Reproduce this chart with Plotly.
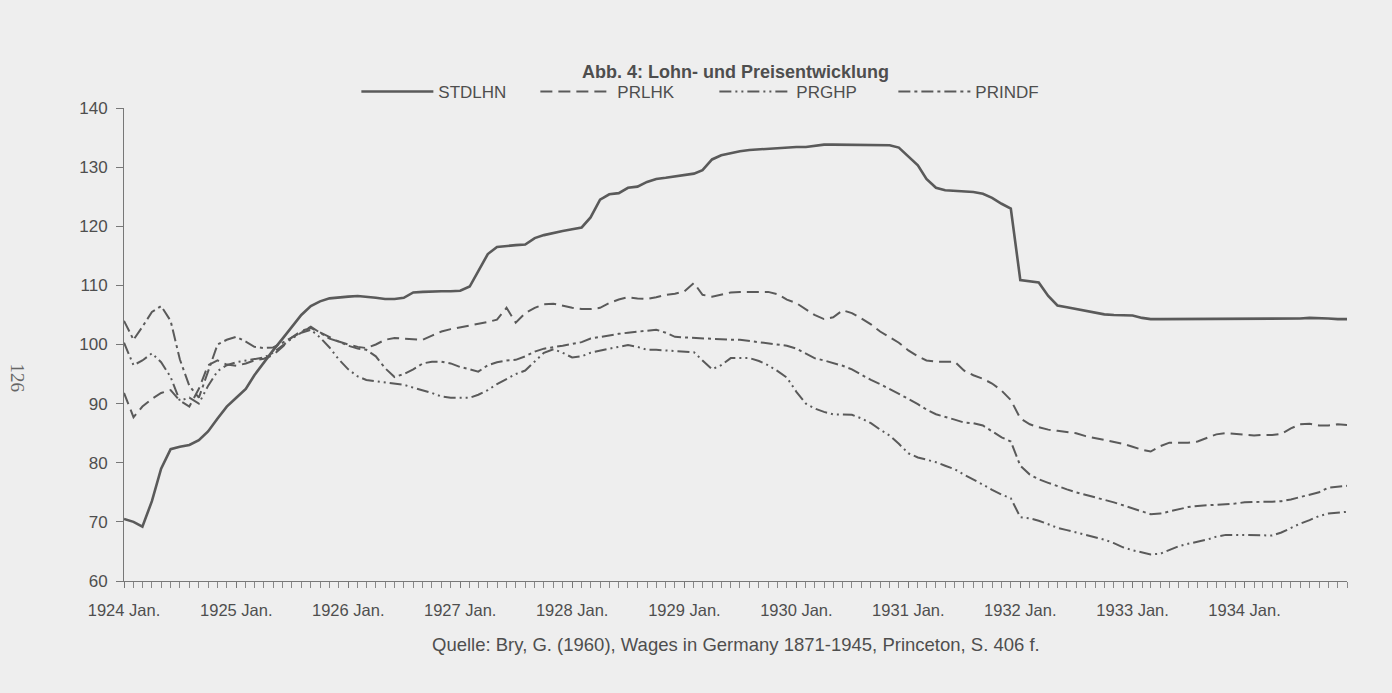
import pandas as pd
import plotly.graph_objects as go

# monthly, Jan 1924 - Dec 1934
months = pd.date_range("1924-01-01", "1934-12-01", freq="MS")
tick_years = list(range(1924, 1935))
tick_labels = [f"{y} Jan." for y in tick_years]

stdlhn = [
    70.5, 70.0, 69.2, 73.5, 79.0, 82.3, 82.7, 83.0, 83.8, 85.3, 87.5, 89.5,
    91.0, 92.5, 94.8, 97.0, 99.0, 101.0, 103.0, 105.0, 106.5, 107.3, 107.8, 108.0,
    108.1, 108.2, 108.1, 107.9, 107.7, 107.7, 107.9, 108.8, 108.9, 109.0, 109.0, 109.0,
    109.1, 109.8, 112.5, 115.3, 116.5, 116.7, 116.8, 116.9, 118.0, 118.5, 118.9, 119.2,
    119.5, 119.8, 121.5, 124.5, 125.4, 125.6, 126.5, 126.7, 127.5, 128.0, 128.2, 128.4,
    128.6, 128.9, 129.5, 131.3, 132.0, 132.4, 132.7, 132.9, 133.0, 133.1, 133.3, 133.4,
    133.4, 133.4, 133.6, 133.8, 133.8, 133.8, 133.8, 133.8, 133.8, 133.8, 133.7, 133.3,
    131.8, 130.3, 128.0, 126.5, 126.1, 126.0, 125.9, 125.8, 125.5, 124.8, 123.8, 123.0,
    110.9, 110.7, 110.5, 108.2, 106.6, 106.3, 106.0, 105.6, 105.3, 105.1, 105.0, 105.0,
    104.9, 104.5, 104.3, 104.3, 104.3, 104.3, 104.3, 104.3, 104.3, 104.3, 104.3, 104.3,
    104.3, 104.3, 104.3, 104.3, 104.3, 104.4, 104.4, 104.5, 104.5, 104.4, 104.3, 104.3,
]
prlhk = [
    91.8, 87.7, 89.5, 90.8, 91.8, 92.3, 90.5, 89.5, 92.5, 96.5, 97.3, 96.6,
    96.4, 96.8, 97.3, 97.6, 98.2, 99.6, 101.2, 102.3, 102.8, 102.0, 101.2, 100.5,
    100.0, 99.6, 99.4, 100.0, 100.8, 101.1, 101.0, 100.9, 100.8, 101.5, 102.2, 102.6,
    102.9, 103.2, 103.5, 103.8, 104.2, 106.2, 103.7, 105.3, 106.2, 106.8, 106.9, 106.5,
    106.2, 106.0, 106.0, 106.2, 107.0, 107.6, 108.0, 107.8, 107.7, 108.0, 108.4, 108.6,
    109.0, 110.4, 108.4, 108.1, 108.4, 108.8, 108.9, 108.9, 108.9, 108.9, 108.5, 107.6,
    107.0, 106.0, 105.0, 104.3, 104.6, 105.8, 105.3, 104.4, 103.4, 102.2, 101.3, 100.3,
    99.0, 98.0, 97.3, 97.1, 97.1, 97.1, 95.6, 94.8, 94.2, 93.4, 92.2, 90.6,
    87.5, 86.5, 86.0, 85.6, 85.4, 85.2, 85.0, 84.5, 84.2, 83.9, 83.6, 83.2,
    82.7, 82.2, 81.9, 82.8, 83.4, 83.4, 83.4, 83.6, 84.2, 84.8, 85.0, 84.9,
    84.7, 84.6, 84.7, 84.7, 84.9, 85.8, 86.5, 86.6, 86.3, 86.3, 86.5, 86.4,
]
prghp = [
    100.3, 96.5, 97.3, 98.5, 97.0, 94.5, 90.5, 91.0, 90.0, 93.0, 95.5, 96.5,
    97.0, 97.3, 97.5, 97.8, 98.6, 99.8, 101.0, 102.0, 102.5, 101.2, 99.5, 97.5,
    95.8, 94.6, 94.0, 93.8, 93.6, 93.5, 93.2, 92.7, 92.3, 91.8, 91.2, 91.0,
    91.0, 91.0, 91.5, 92.3, 93.3, 94.2, 95.0, 95.6, 97.2, 98.6, 99.2, 98.6,
    97.8, 98.0, 98.6, 99.0, 99.3, 99.6, 99.9, 99.6, 99.1, 99.1, 99.0, 98.8,
    98.8, 98.7, 97.3, 95.8, 96.5, 97.7, 97.7, 97.7, 97.2, 96.5, 95.5, 94.4,
    92.0, 90.0, 89.2, 88.6, 88.2, 88.1, 88.1, 87.5, 86.7, 85.6, 84.6, 83.2,
    81.6, 80.9, 80.5, 80.1, 79.5, 78.9, 78.0, 77.2, 76.3, 75.4, 74.6, 74.0,
    70.8, 70.6, 70.2, 69.6, 69.0, 68.6, 68.2, 67.7, 67.4, 67.0, 66.4, 65.7,
    65.2, 64.8, 64.5, 64.6, 65.3, 65.9, 66.3, 66.6, 67.0, 67.5, 67.8, 67.8,
    67.8, 67.8, 67.8, 67.7, 68.2, 69.0, 69.7, 70.3, 71.0, 71.4, 71.6, 71.7,
]
prindf = [
    104.0, 100.8, 103.0, 105.5, 106.5, 104.0, 97.5, 93.0, 91.0, 95.5, 100.0, 100.8,
    101.3, 100.5, 99.6, 99.4, 99.5, 100.3, 101.2, 102.2, 103.0, 102.0, 101.0, 100.5,
    99.8, 99.3, 99.1, 98.0, 96.0, 94.5, 95.0, 95.8, 96.8, 97.1, 97.1, 96.8,
    96.2, 95.8, 95.4, 96.5, 97.0, 97.3, 97.4, 98.0, 98.8, 99.3, 99.5, 99.8,
    100.1, 100.4, 101.0, 101.3, 101.6, 101.8, 102.0, 102.2, 102.4, 102.5, 102.0, 101.3,
    101.2, 101.1, 101.0, 100.9, 100.8, 100.8, 100.8, 100.6, 100.3, 100.1, 100.0, 99.8,
    99.3, 98.4, 97.7, 97.3, 96.9, 96.4, 95.8, 94.9, 94.0, 93.3, 92.5, 91.6,
    90.8, 89.9, 89.0, 88.2, 87.8, 87.3, 86.8, 86.7, 86.3, 85.3, 84.3, 83.6,
    79.5, 78.0, 77.2, 76.6, 76.0, 75.5, 75.0, 74.6, 74.2, 73.8, 73.3, 72.8,
    72.3, 71.8, 71.3, 71.4, 71.8, 72.2, 72.5, 72.7, 72.8, 72.9, 72.9, 73.1,
    73.3, 73.4, 73.4, 73.4, 73.5, 73.8, 74.2, 74.5, 75.0, 75.8, 76.0, 76.1,
]

series = [
    ("STDLHN", stdlhn, "solid", 2.6),
    ("PRLHK", prlhk, "12px,6px", 2),
    ("PRGHP", prghp, "12px,4px,2px,4px,2px,4px", 2),
    ("PRINDF", prindf, "12px,4px,3px,4px", 2),
]

ink = "#5a5a5a"
text_ink = "#4e4e4e"
paper = "#eeeeee"
font_main = "Arial, Liberation Sans, sans-serif"

fig = go.Figure()
for name, values, dash, width in series:
    fig.add_trace(go.Scatter(
        x=months,
        y=values,
        mode="lines",
        name=name,
        line=dict(color=ink, width=width, dash=dash),
    ))

fig.update_layout(
    width=1392,
    height=693,
    margin=dict(l=124, r=45, t=108, b=112),
    paper_bgcolor=paper,
    plot_bgcolor=paper,
    font=dict(family=font_main, size=16, color=text_ink),
    title=dict(
        text="<b>Abb. 4: Lohn- und Preisentwicklung</b>",
        x=0.5, xref="paper", xanchor="center",
        y=0.896, yref="container", yanchor="middle",
        font=dict(size=18, color=text_ink),
    ),
    showlegend=True,
    legend=dict(
        orientation="h",
        x=0.19, xanchor="left",
        y=1.034, yanchor="middle",
        bgcolor="rgba(0,0,0,0)",
        itemwidth=72,
        entrywidth=92,
        font=dict(size=17),
    ),
    annotations=[
        dict(
            text="Quelle: Bry, G. (1960), Wages in Germany 1871-1945, Princeton, S. 406 f.",
            x=0.5, xref="paper", xanchor="center",
            y=-0.135, yref="paper", yanchor="middle",
            showarrow=False, font=dict(size=18.5, color=text_ink),
        ),
        dict(
            text="126",
            x=-0.087, xref="paper", xanchor="center",
            y=0.429, yref="paper", yanchor="middle",
            textangle=90, showarrow=False,
            font=dict(family="Liberation Serif, serif", size=19, color="#666666"),
        ),
    ],
)

fig.update_xaxes(
    range=[months[0], months[-1]],
    tickvals=[pd.Timestamp(f"{y}-01-01") for y in tick_years],
    ticktext=tick_labels,
    tickfont=dict(size=16.5),
    ticklabelstandoff=8,
    ticks="outside", ticklen=6, tickcolor="#777777",
    minor=dict(dtick="M1", tick0="1924-01-01", ticks="outside", ticklen=6, tickcolor="#888888"),
    showline=True, linecolor="#777777", linewidth=1,
    showgrid=False, zeroline=False,
)
fig.update_yaxes(
    range=[60, 140],
    dtick=10,
    tickfont=dict(size=17),
    ticklabelstandoff=5,
    ticks="outside", ticklen=7, tickcolor="#777777",
    showline=True, linecolor="#777777", linewidth=1,
    showgrid=False, zeroline=False,
)

fig.write_html(
    "out.html",
    config={"displayModeBar": False},
    post_script="document.body.style.margin='0';document.body.style.background='%s';" % paper,
)
